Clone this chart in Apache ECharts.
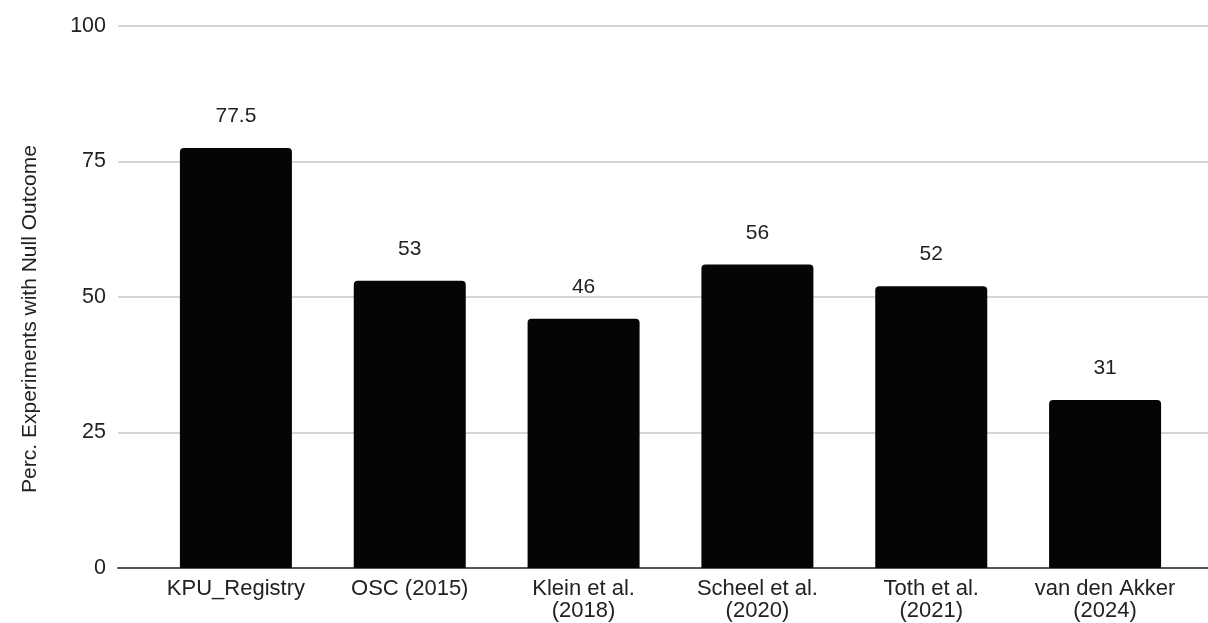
<!DOCTYPE html>
<html>
<head>
<meta charset="utf-8">
<style>
  html, body { margin: 0; padding: 0; background: #fff; }
  #chart { width: 1208px; height: 623px; }
</style>
<script src="https://cdn.jsdelivr.net/npm/echarts@6/dist/echarts.min.js"></script>
</head>
<body>
<div id="chart"></div>
<script>
// Share of experiments reporting a null outcome, per source
const categories = [
  'KPU_Registry',
  'OSC (2015)',
  'Klein et al.\n(2018)',
  'Scheel et al.\n(2020)',
  'Toth et al.\n(2021)',
  'van den Akker\n(2024)'
];
const nullOutcomePct = [77.5, 53, 46, 56, 52, 31];
const yTicks = [0, 25, 50, 75, 100];

const FONT = '"Liberation Sans", Arial, sans-serif';
const chart = echarts.init(document.getElementById('chart'), null, { renderer: 'canvas' });

chart.setOption({
  backgroundColor: '#ffffff',
  animation: false,
  grid: [
    // full-width frame carrying gridlines and baseline
    { left: 118, right: 0, top: 26, bottom: 55 },
    // inner plotting band for the bars
    { left: 149, right: 16, top: 26, bottom: 55 }
  ],
  xAxis: [
    {
      gridIndex: 0, type: 'category', data: [''],
      axisLine: { show: true, lineStyle: { color: '#555555', width: 2 } },
      axisTick: { show: false }, axisLabel: { show: false }, splitLine: { show: false }
    },
    {
      gridIndex: 1, type: 'category', data: categories,
      axisLine: { show: false }, axisTick: { show: false },
      axisLabel: {
        color: '#222222', fontFamily: FONT, fontSize: 22, lineHeight: 22,
        margin: 10, interval: 0
      }
    }
  ],
  yAxis: [
    {
      gridIndex: 0, type: 'value',
      min: yTicks[0], max: yTicks[yTicks.length - 1], interval: 25,
      name: 'Perc. Experiments with Null Outcome',
      nameLocation: 'middle', nameGap: 77, nameRotate: 90,
      nameTextStyle: {
        color: '#222222', fontFamily: FONT, fontSize: 21,
        padding: [0, 44, 0, 0]
      },
      axisLine: { show: false }, axisTick: { show: false },
      axisLabel: { color: '#222222', fontFamily: FONT, fontSize: 21.5, margin: 12 },
      splitLine: { show: true, lineStyle: { color: '#d6d6d6', width: 2 } }
    },
    {
      gridIndex: 1, type: 'value',
      min: yTicks[0], max: yTicks[yTicks.length - 1], interval: 25,
      show: false, splitLine: { show: false }
    }
  ],
  series: [
    {
      type: 'bar',
      xAxisIndex: 1, yAxisIndex: 1,
      data: nullOutcomePct,
      barWidth: 112,
      itemStyle: { color: '#050505', borderRadius: [4, 4, 0, 0] },
      label: {
        show: true, position: 'top', distance: 21,
        color: '#222222', fontFamily: FONT, fontSize: 21
      }
    }
  ]
});
</script>
</body>
</html>
